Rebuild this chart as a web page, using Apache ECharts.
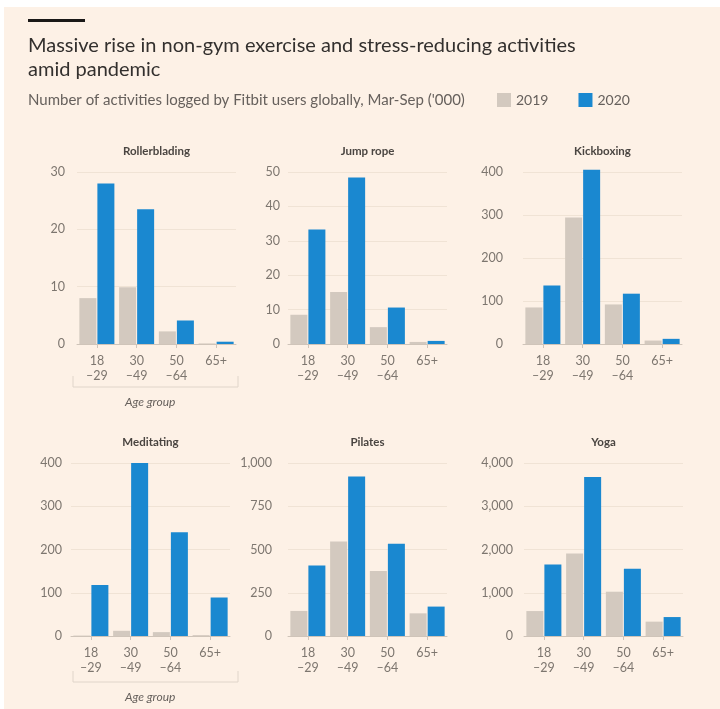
<!DOCTYPE html>
<html>
<head>
<meta charset="utf-8">
<script src="https://cdn.jsdelivr.net/npm/echarts@6/dist/echarts.min.js"></script>
<style>
  html, body { margin: 0; padding: 0; background: #ffffff; }
  #chart { width: 720px; height: 709px; }
</style>
</head>
<body>
<div id="chart"></div>
<script>
// ---- Data ----
const categories = ['18\n–29', '30\n–49', '50\n–64', '65+'];
const panelNames = ['Rollerblading', 'Jump rope', 'Kickboxing', 'Meditating', 'Pilates', 'Yoga'];
const seriesNames = ['2019', '2020'];

const rollerblading2019 = [8.0, 9.9, 2.2, 0.1];
const rollerblading2020 = [28.0, 23.5, 4.1, 0.4];
const jumpRope2019 = [8.5, 15.1, 4.9, 0.6];
const jumpRope2020 = [33.3, 48.4, 10.6, 0.9];
const kickboxing2019 = [85, 294, 92, 8];
const kickboxing2020 = [136, 405, 117, 12];
const meditating2019 = [1, 12, 9, 2];
const meditating2020 = [118, 400, 240, 89];
const pilates2019 = [145, 546, 376, 131];
const pilates2020 = [407, 922, 533, 170];
const yoga2019 = [577, 1907, 1024, 332];
const yoga2020 = [1654, 3677, 1555, 438];

const yMax = [30, 50, 400, 400, 1000, 4000];
const yInterval = [10, 10, 100, 100, 250, 1000];

// ---- Layout / style ----
const data2019 = [rollerblading2019, jumpRope2019, kickboxing2019, meditating2019, pilates2019, yoga2019];
const data2020 = [rollerblading2020, jumpRope2020, kickboxing2020, meditating2020, pilates2020, yoga2020];

const grids = [
  { left: 77, top: 172, width: 159, height: 172 },
  { left: 288, top: 172, width: 159, height: 172 },
  { left: 523, top: 172, width: 159, height: 172 },
  { left: 71, top: 463, width: 159, height: 173 },
  { left: 288, top: 463, width: 159, height: 173 },
  { left: 524, top: 463, width: 159, height: 173 }
];
const labelMargins = [12, 8, 20, 9, 16, 11];

const FONT = 'Lato, "Noto Sans", sans-serif';
const TEXT_DARK = '#33302e';
const TEXT_MID = '#66605c';
const TEXT_AXIS = '#7d766f';
const GREY = '#d3c9bf';
const BLUE = '#1a88d0';
const BG = '#fdf1e6';

const titles = [
  {
    text: 'Massive rise in non-gym exercise and stress-reducing activities\namid pandemic',
    left: 28, top: 34, padding: 0,
    textStyle: { fontFamily: FONT, fontSize: 20, fontWeight: 'normal', color: TEXT_DARK, lineHeight: 24 }
  },
  {
    text: "Number of activities logged by Fitbit users globally, Mar-Sep ('000)",
    left: 28, top: 92, padding: 0,
    textStyle: { fontFamily: FONT, fontSize: 15, fontWeight: 'normal', color: TEXT_MID, lineHeight: 16 }
  }
];
panelNames.forEach((name, i) => {
  const g = grids[i];
  titles.push({
    text: name,
    left: g.left + g.width / 2,
    top: g.top - 27,
    padding: 0,
    textAlign: 'center',
    textStyle: { fontFamily: FONT, fontSize: 11.5, fontWeight: 'bold', color: '#4a4541' }
  });
});

const xAxes = [], yAxes = [], series = [];
grids.forEach((g, i) => {
  xAxes.push({
    type: 'category', gridIndex: i, data: categories,
    axisLine: { show: true, lineStyle: { color: '#cfc4b9', width: 1 } },
    axisTick: { show: true, alignWithLabel: true, length: 4, lineStyle: { color: '#cfc4b9' } },
    axisLabel: { color: TEXT_AXIS, fontFamily: FONT, fontSize: 12.5, lineHeight: 15, margin: 9, interval: 0 }
  });
  yAxes.push({
    type: 'value', gridIndex: i, min: 0, max: yMax[i], interval: yInterval[i],
    axisLine: { show: false }, axisTick: { show: false },
    splitLine: { lineStyle: { color: '#f0e3d5', width: 1 } },
    axisLabel: {
      color: TEXT_AXIS, fontFamily: FONT, fontSize: 12.5, margin: labelMargins[i],
      formatter: v => v.toLocaleString('en-US')
    }
  });
  series.push({
    name: seriesNames[0], type: 'bar', xAxisIndex: i, yAxisIndex: i,
    data: data2019[i], barWidth: 17, barGap: '6%', clip: false,
    itemStyle: { color: GREY }, silent: true
  });
  series.push({
    name: seriesNames[1], type: 'bar', xAxisIndex: i, yAxisIndex: i,
    data: data2020[i], barWidth: 17, barGap: '6%', clip: false,
    itemStyle: { color: BLUE }, silent: true
  });
});

function ageGroup(y) {
  return [
    { type: 'polyline', shape: { points: [[73, y - 11], [73, y], [238, y], [238, y - 11]] },
      style: { stroke: '#e0d5ca', fill: null, lineWidth: 1 }, silent: true },
    { type: 'text', left: 125, top: y + 9,
      style: { text: 'Age group', fontFamily: FONT, fontSize: 12, fontStyle: 'italic', fill: TEXT_MID }, silent: true }
  ];
}

const option = {
  backgroundColor: '#ffffff',
  animation: false,
  graphic: [
    { type: 'rect', shape: { x: 4, y: 7, width: 716, height: 702 }, style: { fill: BG }, z: -10, silent: true },
    { type: 'rect', shape: { x: 28, y: 19, width: 57, height: 3 }, style: { fill: '#1a1817' }, silent: true },
    ...ageGroup(387),
    ...ageGroup(682)
  ],
  title: titles,
  legend: {
    data: seriesNames, left: 497, top: 93, padding: 0, icon: 'rect', itemWidth: 14, itemHeight: 14, itemGap: 30,
    textStyle: { fontFamily: FONT, fontSize: 14, color: TEXT_MID }, selectedMode: false
  },
  grid: grids,
  xAxis: xAxes,
  yAxis: yAxes,
  series: series
};

const chart = echarts.init(document.getElementById('chart'), null, { renderer: 'canvas' });
chart.setOption(option);
</script>
</body>
</html>
